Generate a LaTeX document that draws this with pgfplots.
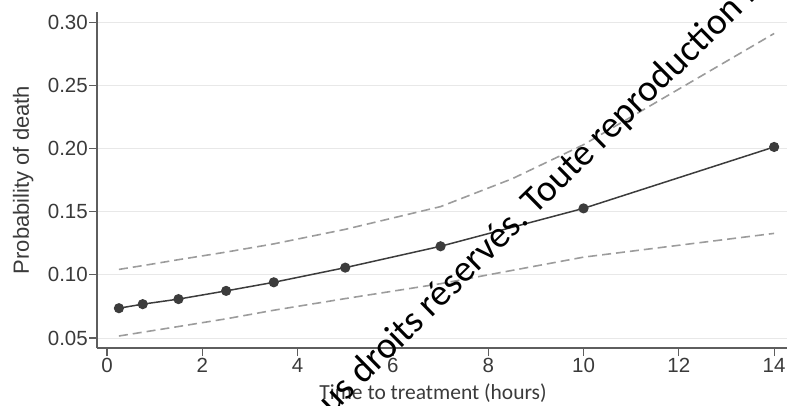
\documentclass[border=0pt]{standalone}
\usepackage{pgfplots}
\pgfplotsset{compat=1.18}
\usepackage{fontspec}
\setmainfont{Liberation Sans}
\newfontfamily\carlito{Carlito}
\definecolor{axcol}{HTML}{5E5E5E}
\definecolor{txtcol}{HTML}{3A3A3A}
\definecolor{gridcol}{HTML}{E8E8E8}
\definecolor{maincol}{HTML}{3C3C3C}
\definecolor{dashcol}{HTML}{9C9C9C}
\begin{document}
\begin{tikzpicture}
\begin{axis}[
  at={(0,0)}, anchor=south west,
  scale only axis,
  width=690pt, height=336pt,
  xmin=-0.21, xmax=14.27,
  ymin=0.0421, ymax=0.308,
  axis x line*=bottom, axis y line*=left,
  axis line style={axcol, line width=1.3pt, -},
  xtick={0,2,...,14},
  ytick={0.05,0.10,0.15,0.20,0.25,0.30},
  tick align=outside,
  major tick length=8pt,
  tick style={axcol, line width=1.2pt},
  ymajorgrids,
  grid style={gridcol, line width=1pt},
  /pgf/number format/assume math mode=true,
  yticklabel style={/pgf/number format/.cd, fixed, fixed zerofill, precision=2, /tikz/.cd, font=\fontsize{20.5}{22}\selectfont, text=txtcol, inner xsep=1pt},
  xticklabel style={font=\fontsize{20.5}{22}\selectfont, text=txtcol, inner ysep=2pt},
  ylabel={Probability of death},
  ylabel style={at={(axis description cs:-0.107,0.5)}, anchor=center, font=\fontsize{22}{24}\selectfont, text=txtcol},
  xlabel={\carlito Time to treatment (hours)},
  xlabel style={at={(axis description cs:0.487,-0.152)}, anchor=base, font=\fontsize{21.5}{23}\selectfont, text=txtcol},
  clip=false,
]
\addplot[dashcol, line width=1.6pt, dash pattern=on 9pt off 5pt] coordinates {
 (0.25,0.1043) (0.75,0.1073) (1.5,0.1120) (2.5,0.1180) (3.5,0.1245) (5,0.1360) (7,0.1540) (8.5,0.1760) (10,0.2030) (12,0.2470) (14,0.2910)};
\addplot[dashcol, line width=1.6pt, dash pattern=on 9pt off 5pt] coordinates {
 (0.25,0.0516) (0.75,0.0546) (1.5,0.0591) (2.5,0.0652) (3.5,0.0720) (5,0.0812) (7,0.0930) (10,0.1140) (14,0.1328)};
\addplot[maincol, line width=1.5pt, mark=*, mark size=4.3pt, mark options={fill=maincol, draw=maincol}] coordinates {
 (0.25,0.0736) (0.75,0.0768) (1.5,0.0808) (2.5,0.0873) (3.5,0.0941) (5,0.1057) (7,0.1226) (10,0.1526) (14,0.2012)};
\end{axis}
\node[overlay, rotate=44.5, anchor=base east, inner sep=0pt, font=\carlito\fontsize{37.5}{39}\selectfont, text=black] at (432.9pt,126.4pt) {Tous droits réservés.\rlap{ Toute reproduction interdite.}};
\pgfresetboundingbox
\path[use as bounding box] (-97pt,-57pt) rectangle (695pt,348pt);
\end{tikzpicture}
\end{document}
